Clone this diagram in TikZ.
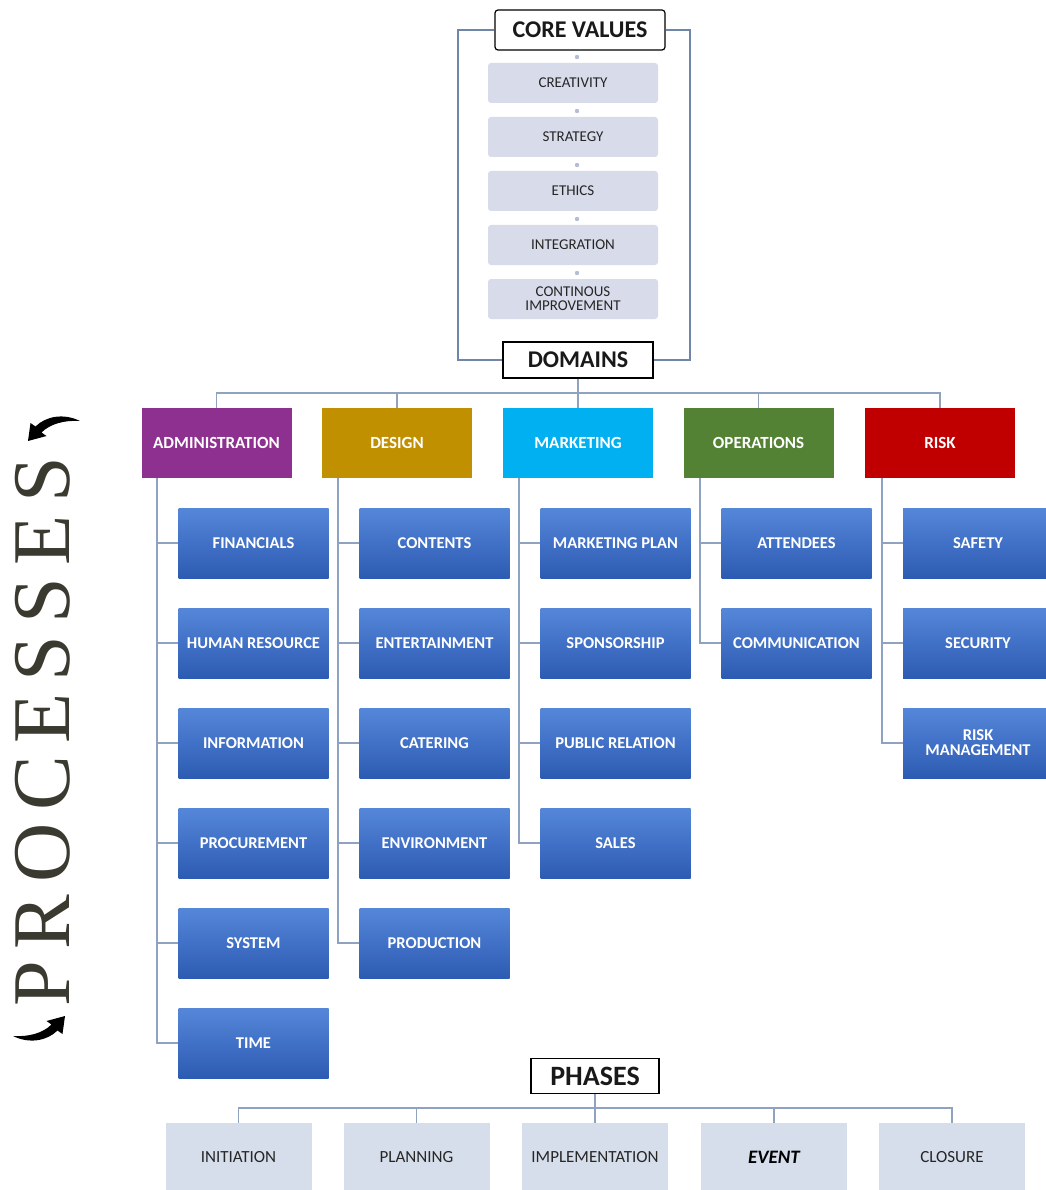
\documentclass[tikz,border=0pt]{standalone}
\usepackage{fontspec}
\setmainfont{Carlito}
\newfontfamily\procfont{Liberation Serif}
\usetikzlibrary{arrows.meta}
\definecolor{connc}{HTML}{8FA2C0}
\definecolor{framec}{HTML}{6F86A8}
\definecolor{valc}{HTML}{D8DBEA}
\definecolor{phc}{HTML}{D6DDEB}
\definecolor{dotc}{HTML}{B4BCD6}
\definecolor{admc}{HTML}{8E3090}
\definecolor{desc}{HTML}{C09000}
\definecolor{mktc}{HTML}{00B0F0}
\definecolor{opsc}{HTML}{548235}
\definecolor{riskc}{HTML}{C00000}
\definecolor{subtop}{HTML}{5587D9}
\definecolor{subbot}{HTML}{2D5BB3}
\definecolor{procc}{HTML}{3B3A30}
\begin{document}
\begin{tikzpicture}[x=1pt,y=-1pt,
  conn/.style={draw=connc, line width=1.4pt},
  frame/.style={draw=framec, line width=1.8pt},
  title/.style={draw=black, line width=1.2pt, fill=white, inner sep=0pt, text=black!90, font=\bfseries\fontsize{24}{26}\selectfont},
  val/.style={fill=valc, rounded corners=3pt, minimum width=170pt, minimum height=40pt, inner sep=0pt, align=center, text=black!85, font=\fontsize{15}{16}\selectfont},
  dom/.style={minimum width=150pt, minimum height=70pt, inner sep=0pt, text=white, font=\bfseries\fontsize{17}{19}\selectfont},
  sub/.style={minimum width=150pt, minimum height=70pt, inner sep=0pt, top color=subtop, bottom color=subbot, text=white, align=center, font=\bfseries\fontsize{16.5}{17}\selectfont},
  ph/.style={fill=phc, minimum width=146pt, minimum height=68pt, inner sep=0pt, text=black!85, font=\fontsize{17}{19}\selectfont},
  swoosh/.style={fill=black}
]
\useasboundingbox (0,0) rectangle (1045,1190);

% ---- core values ----
\node[title, rounded corners=3pt, minimum width=170pt, minimum height=40pt] (cv) at (580,30) {CORE VALUES};
\node[val] (v1) at (573,83) {CREATIVITY};
\node[val] (v2) at (573,137) {STRATEGY};
\node[val] (v3) at (573,191) {ETHICS};
\node[val] (v4) at (573,245) {INTEGRATION};
\node[val] (v5) at (573,299) {CONTINOUS\\[-2pt]IMPROVEMENT};
\foreach \y in {57,111,165,219,273} \fill[dotc] (577,\y) circle (2.2pt);

\node[title, minimum width=150pt, minimum height=36pt] (dm) at (578,360) {DOMAINS};
\coordinate (fl) at (458,0);
\coordinate (fr) at (690,0);
\draw[frame] (cv.west) -- (cv.west -| fl) -- (dm.west -| fl) -- (dm.west);
\draw[frame] (cv.east) -- (cv.east -| fr) -- (dm.east -| fr) -- (dm.east);

% ---- domains ----
\node[dom, fill=admc] (adm) at (216.5,443) {ADMINISTRATION};
\node[dom, fill=desc] (des) at (397,443) {DESIGN};
\node[dom, fill=mktc] (mkt) at (578,443) {MARKETING};
\node[dom, fill=opsc] (ops) at (758.5,443) {OPERATIONS};
\node[dom, fill=riskc] (rsk) at (940,443) {RISK};

\coordinate (busD) at (0,393);
\draw[conn] (dm.south) -- (dm.south |- busD);
\draw[conn] (adm.north) -- (adm.north |- busD) -- (rsk.north |- busD) -- (rsk.north);
\foreach \n in {des,mkt,ops} \draw[conn] (\n.north) -- (\n.north |- busD);

% ---- administration ----
\node[sub] (a1) at (253.5,543) {FINANCIALS};
\node[sub] (a2) at (253.5,643) {HUMAN RESOURCE};
\node[sub] (a3) at (253.5,743) {INFORMATION};
\node[sub] (a4) at (253.5,843) {PROCUREMENT};
\node[sub] (a5) at (253.5,943) {SYSTEM};
\node[sub] (a6) at (253.5,1043) {TIME};
% ---- design ----
\node[sub] (d1) at (434.5,543) {CONTENTS};
\node[sub] (d2) at (434.5,643) {ENTERTAINMENT};
\node[sub] (d3) at (434.5,743) {CATERING};
\node[sub] (d4) at (434.5,843) {ENVIRONMENT};
\node[sub] (d5) at (434.5,943) {PRODUCTION};
% ---- marketing ----
\node[sub] (m1) at (615.5,543) {MARKETING PLAN};
\node[sub] (m2) at (615.5,643) {SPONSORSHIP};
\node[sub] (m3) at (615.5,743) {PUBLIC RELATION};
\node[sub] (m4) at (615.5,843) {SALES};
% ---- operations ----
\node[sub] (o1) at (796.5,543) {ATTENDEES};
\node[sub] (o2) at (796.5,643) {COMMUNICATION};
% ---- risk ----
\node[sub] (r1) at (978,543) {SAFETY};
\node[sub] (r2) at (978,643) {SECURITY};
\node[sub] (r3) at (978,743) {RISK\\[-2pt]MANAGEMENT};

\coordinate (sA) at (157,0);
\coordinate (sD) at (338,0);
\coordinate (sM) at (519,0);
\coordinate (sO) at (700,0);
\coordinate (sR) at (882,0);
\draw[conn] (adm.south -| sA) -- (a6.west -| sA) -- (a6.west);
\foreach \c in {a1,a2,a3,a4,a5} \draw[conn] (\c.west -| sA) -- (\c.west);
\draw[conn] (des.south -| sD) -- (d5.west -| sD) -- (d5.west);
\foreach \c in {d1,d2,d3,d4} \draw[conn] (\c.west -| sD) -- (\c.west);
\draw[conn] (mkt.south -| sM) -- (m4.west -| sM) -- (m4.west);
\foreach \c in {m1,m2,m3} \draw[conn] (\c.west -| sM) -- (\c.west);
\draw[conn] (ops.south -| sO) -- (o2.west -| sO) -- (o2.west);
\draw[conn] (o1.west -| sO) -- (o1.west);
\draw[conn] (rsk.south -| sR) -- (r3.west -| sR) -- (r3.west);
\foreach \c in {r1,r2} \draw[conn] (\c.west -| sR) -- (\c.west);

% ---- phases ----
\node[title, minimum width=128pt, minimum height=35pt, font=\bfseries\fontsize{28}{30}\selectfont] (phs) at (595,1076) {PHASES};
\node[ph] (p1) at (238.5,1157) {INITIATION};
\node[ph] (p2) at (416.5,1157) {PLANNING};
\node[ph] (p3) at (595,1157) {IMPLEMENTATION};
\node[ph, text=black, font=\bfseries\itshape\fontsize{19}{21}\selectfont] (p4) at (774,1157) {EVENT};
\node[ph] (p5) at (952,1157) {CLOSURE};
\coordinate (busP) at (0,1108);
\draw[conn] (phs.south) -- (phs.south |- busP);
\draw[conn] (p1.north) -- (p1.north |- busP) -- (p5.north |- busP) -- (p5.north);
\foreach \n in {p2,p3,p4} \draw[conn] (\n.north) -- (\n.north |- busP);

% ---- processes ----
\node[rotate=90, inner sep=0pt, text=procc, font=\procfont\fontsize{82}{82}\selectfont\addfontfeature{LetterSpace=15}] (proc) at (43,732) {PROCESSES};
\begin{scope}[shift={(54,431)}]
  \fill[swoosh] (26,-10) .. controls (10,-18) and (-8,-15) .. (-18.5,-4.5) -- (-23.5,-8) -- (-26,10) -- (-7.5,5) -- (-12.5,1.5) .. controls (-4,-7) and (10,-11) .. (26,-10) -- cycle;
\end{scope}
\begin{scope}[shift={(39,1026)}, rotate=180]
  \fill[swoosh] (26,-10) .. controls (10,-18) and (-8,-15) .. (-18.5,-4.5) -- (-23.5,-8) -- (-26,10) -- (-7.5,5) -- (-12.5,1.5) .. controls (-4,-7) and (10,-11) .. (26,-10) -- cycle;
\end{scope}
\end{tikzpicture}
\end{document}
